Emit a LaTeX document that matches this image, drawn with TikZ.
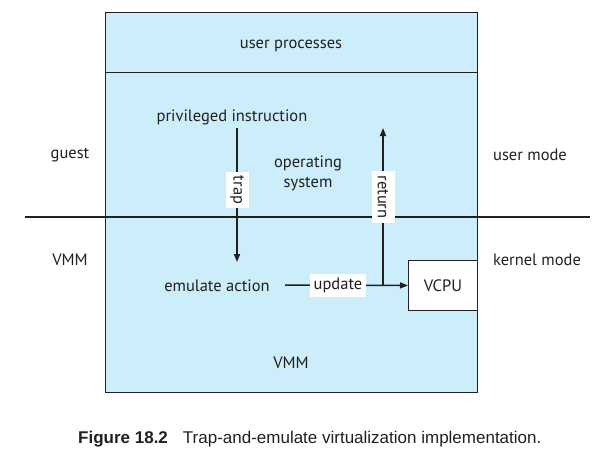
\documentclass[tikz,border=0pt]{standalone}
\usepackage{fontspec}
\setmainfont{PT Sans}
\newfontfamily\capfont{Liberation Sans}
\usetikzlibrary{arrows.meta}
\definecolor{vmblue}{RGB}{204,238,250}
\definecolor{ink}{RGB}{35,31,32}
\begin{document}
\begin{tikzpicture}[x=1pt,y=-1pt,
  every node/.style={font=\fontsize{16.5}{20}\selectfont, text=ink},
  panel/.style={draw=ink, line width=0.9pt, fill=vmblue, anchor=north west, inner sep=0pt},
  lab/.style={fill=white, inner xsep=4pt, inner ysep=0pt, minimum height=23pt},
  arr/.style={draw=ink, line width=1.5pt, -{Triangle[length=8pt,width=6pt]}},
  plain/.style={draw=ink, line width=1.5pt}]
\useasboundingbox (0,0) rectangle (616,453);
\node[panel, minimum width=372pt, minimum height=380pt] (vmm) at (105,12) {};
\node[panel, minimum width=372pt, minimum height=60pt] (up) at (105,12) {};
\node (uptext) at (291,45.5) {user processes};
\coordinate (ll) at (25,217);
\coordinate (rr) at (590,217);
\draw[plain] (ll) -- (rr);
\node[draw=ink, line width=0.9pt, fill=white, anchor=north west, minimum width=69pt, minimum height=50pt, inner sep=0pt] (vcpu) at (408,260) {VCPU};
\node (priv) at (232,117) {privileged instruction};
\node[align=center, inner sep=0pt] (os) at (308,173) {operating\\system};
\node (emul) at (217,286) {emulate action};
\node (guest) at (70,155) {guest};
\node (vmml) at (70,260) {VMM};
\node (umode) at (530,155) {user mode};
\node (kmode) at (537,260) {kernel mode};
\node (vmmb) at (291,363) {VMM};
\coordinate (t1) at (237,128);
\coordinate (t2) at (237,262);
\draw[arr] (t1) -- (t2);
\node[lab, rotate=-90] (trap) at (237,190) {trap};
\coordinate (u1) at (285,285);
\coordinate (rb) at (383,285);
\coordinate (rt) at (383,128);
\draw[arr] (u1) -- (vcpu.west);
\draw[arr] (rb) -- (rt);
\node[lab] (upd) at (338,285) {update};
\node[lab, rotate=-90] (ret) at (383,197) {return};
\node[anchor=base west, font=\capfont\fontsize{17}{20}\selectfont, inner sep=0pt] (cap) at (78,443) {\textbf{Figure 18.2}\hspace{15pt}Trap-and-emulate virtualization implementation.};
\end{tikzpicture}
\end{document}
